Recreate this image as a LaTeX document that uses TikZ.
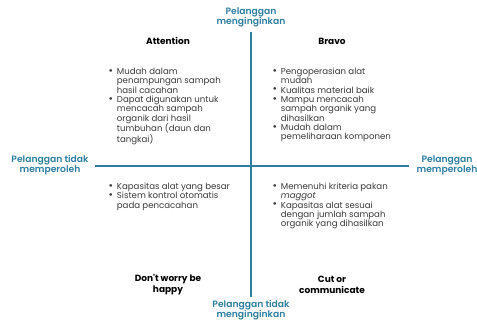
\documentclass[tikz,border=0pt]{standalone}
\usepackage{fontspec}
\setmainfont{Poppins}[ItalicFont=Poppins Italic, BoldFont=Poppins SemiBold]
\newfontface\headfont{Poppins Bold}
\usepackage{tikz}
\usetikzlibrary{positioning}

\definecolor{axisblue}{HTML}{2E7EA0}
\definecolor{bodygrey}{HTML}{3A3A3A}

\tikzset{
  axislabel/.style={text=axisblue, font=\fontsize{9.2}{10.2}\selectfont\bfseries, align=center, inner sep=0pt},
  heading/.style={text=black, font=\fontsize{9}{11}\selectfont\headfont, align=center, inner sep=0pt},
  bullets/.style={text=bodygrey, font=\fontsize{8.6}{9.3}\selectfont, inner sep=0pt, anchor=base west},
}

% one list of points, each line given by hand
\newcommand{\pts}[1]{\begin{tabular}[t]{@{}l@{\hspace{3.8pt}}l@{}}#1\end{tabular}}
\newcommand{\bul}{\raisebox{0.2pt}{\scalebox{1.25}{\textbullet}}}

\begin{document}
\begin{tikzpicture}[x=1pt,y=-1pt]

\useasboundingbox (0,0) rectangle (477,322);

% Axis end points
\coordinate (top) at (251,32);
\coordinate (bottom) at (251,297);
\coordinate (left) at (95,166);
\coordinate (right) at (409,166);

\draw[axisblue, line width=2pt] (top) -- (bottom);
\draw[axisblue, line width=2pt] (left) -- (right);

% Labels at the axis ends
\node[axislabel] (want) at (251,17) {Pelanggan\\menginginkan};
\node[axislabel] (nowant) at (251,310) {Pelanggan tidak\\menginginkan};
\node[axislabel] (noget) at (50,165) {Pelanggan tidak\\memperoleh};
\node[axislabel] (get) at (447,165) {Pelanggan\\memperoleh};

% Quadrant titles
\node[heading] (attn) at (168,41) {Attention};
\node[heading] (bravo) at (332,41) {Bravo};
\node[heading] (dontworry) at (168,285) {Don't worry be\\happy};
\node[heading] (cut) at (332,285) {Cut or\\communicate};

% Points in each quadrant
\node[bullets] (tl) at (108.5,74.5) {\pts{
  \bul & Mudah dalam\\
       & penampungan sampah\\
       & hasil cacahan\\
  \bul & Dapat digunakan untuk\\
       & mencacah sampah\\
       & organik dari hasil\\
       & tumbuhan (daun dan\\
       & tangkai)}};

\node[bullets] (tr) at (272.5,74.5) {\pts{
  \bul & Pengoperasian alat\\
       & mudah\\
  \bul & Kualitas material baik\\
  \bul & Mampu mencacah\\
       & sampah organik yang\\
       & dihasilkan\\
  \bul & Mudah dalam\\
       & pemeliharaan komponen}};

\node[bullets] (bl) at (108.5,189.5) {\pts{
  \bul & Kapasitas alat yang besar\\
  \bul & Sistem kontrol otomatis\\
       & pada pencacahan}};

\node[bullets] (br) at (272.5,189.5) {\pts{
  \bul & Memenuhi kriteria pakan\\
       & \textit{maggot}\\
  \bul & Kapasitas alat sesuai\\
       & dengan jumlah sampah\\
       & organik yang dihasilkan}};

\end{tikzpicture}
\end{document}
